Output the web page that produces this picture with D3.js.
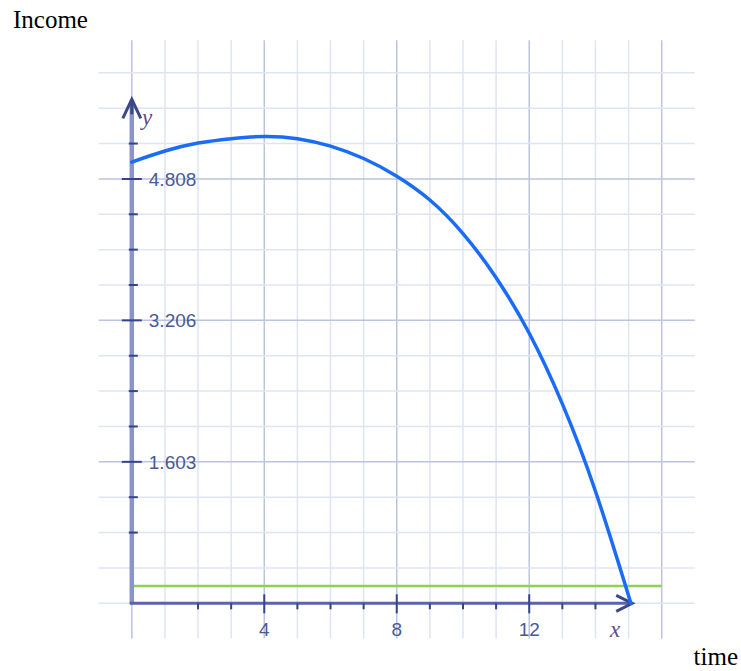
<!DOCTYPE html>
<html>
<head>
<meta charset="utf-8">
<script src="https://cdn.jsdelivr.net/npm/d3@7"></script>
<style>
html,body{margin:0;padding:0;background:#fff;}
svg{display:block;}
</style>
</head>
<body>
<script>
// ---- data ----
const xValues = [0, 1, 2, 3, 4, 5, 6, 7, 8, 9, 10, 11, 12, 13, 14, 15.07];
const incomeValues = [5.00, 5.125, 5.215, 5.265, 5.29, 5.265, 5.18, 5.04, 4.84, 4.57, 4.19, 3.69, 3.06, 2.26, 1.27, 0.0];
const thresholdValue = 0.196;
const thresholdRange = [0, 16];
const xTickValues = [4, 8, 12];
const xTickLabels = ["4", "8", "12"];
const yTickValues = [1.603, 3.206, 4.808];
const yTickLabels = ["1.603", "3.206", "4.808"];
const yStep = 0.40075;
const yAxisTitle = "Income";
const xAxisTitle = "time";

const W = 741, H = 671;
const svg = d3.select("body").append("svg").attr("width", W).attr("height", H);

const x = d3.scaleLinear().domain([0, 16]).range([131.8, 661.7]);
const y = d3.scaleLinear().domain([0, 4.808]).range([603.3, 179]);

// grid
const gMinor = "#dfe4f1", gMajor = "#bcc3de";
const vLines = d3.range(0, 17);
svg.append("g").selectAll("line").data(vLines).join("line")
  .attr("x1", d => x(d)).attr("x2", d => x(d))
  .attr("y1", y(-0.4)).attr("y2", y(6.38))
  .attr("stroke", d => d % 4 === 0 ? gMajor : gMinor)
  .attr("stroke-width", 1.5);
const hLines = d3.range(0, 16);
svg.append("g").selectAll("line").data(hLines).join("line")
  .attr("x1", x(-1)).attr("x2", x(17))
  .attr("y1", d => y(d * yStep)).attr("y2", d => y(d * yStep))
  .attr("stroke", d => (d % 4 === 0 && d > 0) ? gMajor : gMinor)
  .attr("stroke-width", 1.5);

// threshold line
svg.append("line")
  .attr("x1", x(thresholdRange[0])).attr("x2", x(thresholdRange[1]))
  .attr("y1", y(thresholdValue)).attr("y2", y(thresholdValue))
  .attr("stroke", "#8fd14f").attr("stroke-width", 2.5);

// axes
const tickColor = "#34438a";
svg.append("line")
  .attr("x1", x(0)).attr("x2", x(0))
  .attr("y1", y(0) + 1).attr("y2", y(5.7))
  .attr("stroke", "#8a94c8").attr("stroke-width", 4.5);
svg.append("line")
  .attr("x1", x(0) - 2).attr("x2", x(15.05))
  .attr("y1", y(0)).attr("y2", y(0))
  .attr("stroke", "#5866a8").attr("stroke-width", 3);

// x ticks
const xMinor = [2, 3, 5, 6, 7, 9, 10, 11, 13, 14];
svg.append("g").selectAll("line").data(xMinor).join("line")
  .attr("x1", d => x(d)).attr("x2", d => x(d))
  .attr("y1", y(0)).attr("y2", y(0) + 6)
  .attr("stroke", tickColor).attr("stroke-width", 2);
svg.append("g").selectAll("line").data(xTickValues).join("line")
  .attr("x1", d => x(d)).attr("x2", d => x(d))
  .attr("y1", y(0) - 9).attr("y2", y(0) + 10)
  .attr("stroke", tickColor).attr("stroke-width", 2);

// y ticks
const yMinor = d3.range(2, 14).filter(k => k % 4 !== 0);
svg.append("g").selectAll("line").data(yMinor).join("line")
  .attr("x1", x(0) - 3).attr("x2", x(0) + 6)
  .attr("y1", d => y(d * yStep)).attr("y2", d => y(d * yStep))
  .attr("stroke", tickColor).attr("stroke-width", 2);
svg.append("g").selectAll("line").data(yTickValues).join("line")
  .attr("x1", x(0) - 10).attr("x2", x(0) + 10)
  .attr("y1", d => y(d)).attr("y2", d => y(d))
  .attr("stroke", tickColor).attr("stroke-width", 2);

// arrowheads
const ay = [x(0), y(5.7)];
svg.append("path")
  .attr("d", `M${ay[0]-9},${ay[1]+18} L${ay[0]},${ay[1]-1} L${ay[0]+9},${ay[1]+18}`)
  .attr("fill", "none").attr("stroke", "#3a4888").attr("stroke-width", 3).attr("stroke-linejoin", "miter");
svg.append("path")
  .attr("d", `M${ay[0]},${ay[1]-1} L${ay[0]},${ay[1]+14}`)
  .attr("stroke", "#3a4888").attr("stroke-width", 3);
const ax = [x(15.05), y(0)];
svg.append("path")
  .attr("d", `M${ax[0]-14},${ax[1]-8} L${ax[0]+2},${ax[1]} L${ax[0]-14},${ax[1]+8}`)
  .attr("fill", "none").attr("stroke", "#3a4888").attr("stroke-width", 3).attr("stroke-linejoin", "miter");

// curve
const pts = xValues.map((d, i) => [d, incomeValues[i]]);
svg.append("path")
  .datum(pts)
  .attr("d", d3.line().x(d => x(d[0])).y(d => y(d[1])).curve(d3.curveNatural))
  .attr("fill", "none").attr("stroke", "#1a6cf5").attr("stroke-width", 3.5)
  .attr("stroke-linecap", "round");

// tick labels
const labColor = "#4a5896";
svg.append("g").selectAll("text").data(yTickValues).join("text")
  .attr("x", x(0) + 17).attr("y", d => y(d)).attr("dy", "0.36em")
  .attr("font-family", "Liberation Sans, Arial, sans-serif").attr("font-size", 19)
  .attr("fill", labColor)
  .text((d, i) => yTickLabels[i]);
svg.append("g").selectAll("text").data(xTickValues).join("text")
  .attr("x", d => x(d)).attr("y", 636).attr("text-anchor", "middle")
  .attr("font-family", "Liberation Sans, Arial, sans-serif").attr("font-size", 19)
  .attr("fill", labColor)
  .text((d, i) => xTickLabels[i]);

// axis letters
svg.append("text").attr("x", 142).attr("y", 125)
  .attr("font-family", "Liberation Serif, Times New Roman, serif").attr("font-style", "italic")
  .attr("font-size", 23).attr("fill", "#574e8e").text("y");
svg.append("text").attr("x", 610).attr("y", 637)
  .attr("font-family", "Liberation Serif, Times New Roman, serif").attr("font-style", "italic")
  .attr("font-size", 23).attr("fill", "#574e8e").text("x");

// titles
svg.append("text").attr("x", 13).attr("y", 28)
  .attr("font-family", "Liberation Serif, Times New Roman, serif")
  .attr("font-size", 25).attr("fill", "#000").text(yAxisTitle);
svg.append("text").attr("x", 738).attr("y", 665).attr("text-anchor", "end")
  .attr("font-family", "Liberation Serif, Times New Roman, serif")
  .attr("font-size", 25).attr("fill", "#000").text(xAxisTitle);
</script>
</body>
</html>
